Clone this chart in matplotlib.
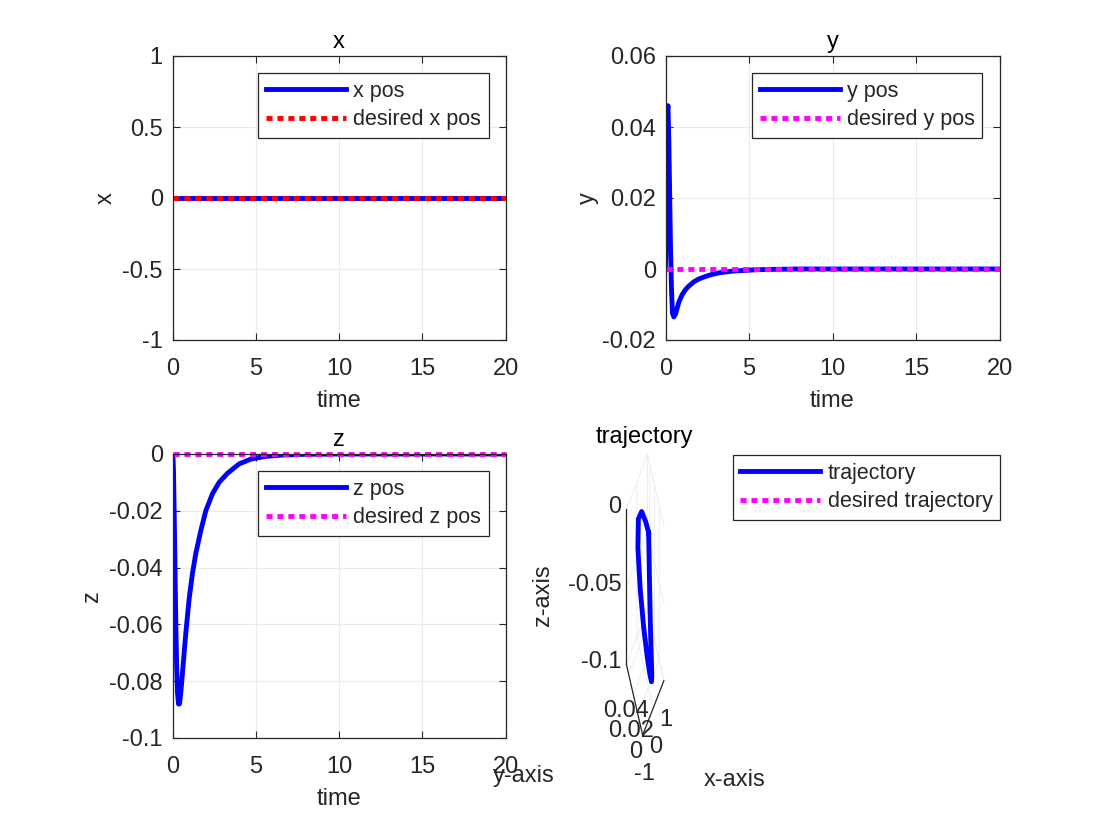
import numpy as np
import matplotlib
matplotlib.use("Agg")
import matplotlib.pyplot as plt
from matplotlib.ticker import FuncFormatter
from mpl_toolkits.mplot3d import Axes3D  # noqa

plt.rcParams['font.family'] = ['Liberation Sans', 'DejaVu Sans']
plt.rcParams['axes.unicode_minus'] = False

# simulation samples
t = [0, 0.03, 0.06, 0.1, 0.15, 0.2, 0.25, 0.3, 0.36, 0.42, 0.5, 0.6, 0.7, 0.8,
     1.0, 1.2, 1.4, 1.7, 2.0, 2.4, 2.8, 3.3, 4.0, 4.7, 5.5, 6.5, 8, 10, 13, 16, 20]
x_pos = [0] * len(t)
y_pos = [0, 0.012, 0.03, 0.044, 0.046, 0.036, 0.021, 0.006, -0.006, -0.0125,
         -0.0135, -0.0127, -0.011, -0.0093, -0.0072, -0.0058, -0.0048, -0.0036,
         -0.0028, -0.0021, -0.0015, -0.0010, -0.0006, -0.0004, -0.0002, -0.0001,
         0, 0, 0, 0, 0]
z_pos = [0, -0.001, -0.006, -0.02, -0.04, -0.06, -0.075, -0.084, -0.088,
         -0.088, -0.084, -0.077, -0.070, -0.063, -0.051, -0.042, -0.035, -0.027,
         -0.020, -0.014, -0.010, -0.0068, -0.0035, -0.0018, -0.0009, -0.0004,
         -0.0001, 0, 0, 0, 0]
x_des = [0] * len(t)
y_des = [0] * len(t)
z_des = [0] * len(t)

txt = '#262626'
grid_c = '#ebebeb'
fs = 17
lfs = 15.5
W, H = 1102, 827

fig = plt.figure(figsize=(W / 100, H / 100), dpi=100)


def box(l, r, top, bot):
    return [l / W, 1 - bot / H, (r - l) / W, (bot - top) / H]


fmt = FuncFormatter(lambda v, p: '%g' % round(v, 6))


def style(ax, ylim, yticks, name, lx):
    ax.set_xlim(0, 20)
    ax.set_ylim(*ylim)
    ax.set_xticks([0, 5, 10, 15, 20])
    ax.set_yticks(yticks)
    ax.yaxis.set_major_formatter(fmt)
    ax.grid(True, color=grid_c, lw=0.8)
    ax.set_axisbelow(True)
    ax.tick_params(direction='in', top=True, right=True, length=5,
                   labelsize=fs, colors=txt)
    ax.tick_params(axis='x', pad=13)
    ax.tick_params(axis='y', pad=7)
    for s in ax.spines.values():
        s.set_color(txt)
        s.set_linewidth(0.9)
    ax.set_xlabel('time', fontsize=fs, color=txt, labelpad=7)
    ax.set_ylabel(name, fontsize=fs, color=txt)
    ax.yaxis.set_label_coords(lx, 0.5)
    ax.set_title(name, fontsize=fs, color='black', pad=6)


leg_kw = dict(fontsize=lfs, handlelength=3.7, fancybox=False, framealpha=1,
              edgecolor=txt, borderpad=0.35, labelspacing=0.35,
              handletextpad=0.35, borderaxespad=0)


def legend(ax):
    lg = ax.legend(loc='upper right', bbox_to_anchor=(1 - 17 / 333, 1 - 17 / 284),
                   **leg_kw)
    lg.get_frame().set_linewidth(0.9)
    for tx in lg.get_texts():
        tx.set_color(txt)
    return lg


dot = (0, (1.25, 1.0))

ax1 = fig.add_axes(box(172.5, 505.5, 56, 340))
ax1.plot(t, x_pos, color='blue', lw=3.5, label='x pos')
ax1.plot(t, x_des, color='red', lw=3.5, ls=dot, label='desired x pos')
style(ax1, (-1, 1), [-1, -0.5, 0, 0.5, 1], 'x', -0.166)
legend(ax1)

ax2 = fig.add_axes(box(665.5, 999.5, 56, 340))
ax2.plot(t, y_pos, color='blue', lw=3.5, label='y pos')
ax2.plot(t, y_des, color='magenta', lw=3.5, ls=dot, label='desired y pos')
style(ax2, (-0.02, 0.06), [-0.02, 0, 0.02, 0.04, 0.06], 'y', -0.2)
legend(ax2)

ax3 = fig.add_axes(box(172.5, 505.5, 454, 738))
ax3.plot(t, z_pos, color='blue', lw=3.5, label='z pos')
ax3.plot(t, z_des, color='magenta', lw=3.5, ls=dot, label='desired z pos',
         clip_on=False)
style(ax3, (-0.1, 0), [-0.1, -0.08, -0.06, -0.04, -0.02, 0], 'z', -0.21)
legend(ax3)

# 3D trajectory, stretched like a MATLAB subplot
ax4 = fig.add_axes(box(622, 667, 448.5, 749.5), projection='3d')
ax4.apply_aspect = lambda position=None: None
ax4.set_proj_type('ortho')
ax4.view_init(elev=30, azim=-127.5)
ax4.set_box_aspect((1, 1, 1))
l1, = ax4.plot(x_pos, y_pos, z_pos, color='blue', lw=3.5, label='trajectory')
l2, = ax4.plot(x_des, y_des, z_des, color='magenta', lw=3.5, ls=dot,
               label='desired trajectory')
ax4.set_xlim(-1, 1)
ax4.set_ylim(-0.02, 0.05)
ax4.set_zlim(-0.1, 0)
ax4.set_xticks([-1, 0, 1])
ax4.set_yticks([0, 0.02, 0.04])
ax4.set_zticks([-0.1, -0.05, 0])
for a in (ax4.xaxis, ax4.yaxis, ax4.zaxis):
    a.set_major_formatter(fmt)
    a.set_pane_color((1, 1, 1, 0))
    a.pane.set_edgecolor(grid_c)
    a._axinfo['grid']['color'] = grid_c
    a._axinfo['grid']['linewidth'] = 0.6
    a._axinfo['tick']['inward_factor'] = 0
    a._axinfo['tick']['outward_factor'] = 0
    a.line.set_color(txt)
    a.line.set_linewidth(0.9)
ax4.tick_params(labelsize=fs, colors=txt, pad=0)
for lbl in ax4.zaxis.get_majorticklabels():
    lbl.set_horizontalalignment('right')
    lbl.set_verticalalignment('center')
ax4.text2D(0.5, (749.5 - 437) / 301, 'trajectory', transform=ax4.transAxes,
           fontsize=fs, color='black', ha='center', va='center')

lg = fig.legend(handles=[l1, l2], loc='upper right',
                bbox_to_anchor=(1000 / W, 1 - 455 / H), **leg_kw)
lg.get_frame().set_linewidth(0.9)
for tx in lg.get_texts():
    tx.set_color(txt)

fig.text(543 / W, 1 - 595 / H, 'z-axis', fontsize=fs, color=txt, rotation=90,
         ha='center', va='center')
fig.text(524 / W, 1 - 776 / H, 'y-axis', fontsize=fs, color=txt,
         ha='center', va='center')
fig.text(735 / W, 1 - 780 / H, 'x-axis', fontsize=fs, color=txt,
         ha='center', va='center')

fig.savefig('out.png', dpi=100)
